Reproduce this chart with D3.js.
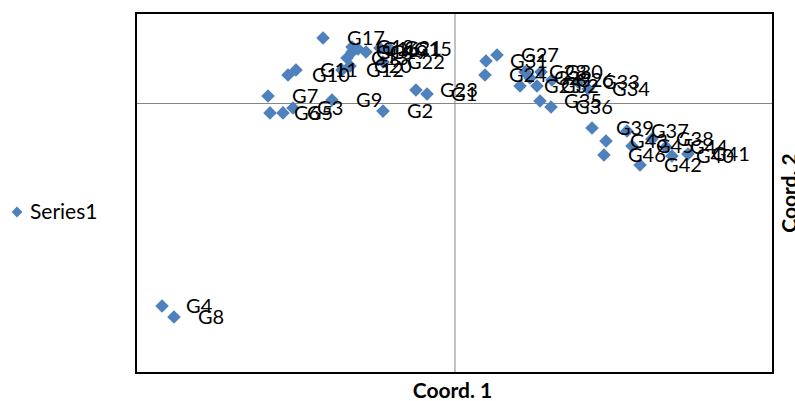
<!DOCTYPE html>
<html><head><meta charset="utf-8">
<script src="https://cdn.jsdelivr.net/npm/d3@7"></script>
<style>body{margin:0;background:#fff;}svg{display:block;}</style>
</head><body>
<svg id="c" width="795" height="401"></svg>
<script>
const labels = ["G1","G2","G3","G4","G5","G6","G7","G8","G9","G10","G11","G12","G13","G14","G15","G16","G17","G18","G19","G20","G21","G22","G23",
"G24","G25","G26","G27","G28","G29","G30","G31","G32","G33","G34","G35","G36","G37","G38","G39","G40","G41","G42","G43","G44","G45","G46"];
const coord1 = [-0.0345,-0.0898,-0.2028,-0.3673,-0.2154,-0.2317,-0.2342,-0.3523,-0.1538,-0.2091,-0.1991,-0.1413,-0.1350,-0.1287,-0.0810,-0.1212,-0.1651,-0.1287,-0.1111,-0.1312,-0.0936,-0.0898,-0.0484,
0.0383,0.0823,0.1225,0.0534,0.0885,0.0948,0.1086,0.0396,0.1036,0.1551,0.1677,0.1074,0.1212,0.2166,0.2480,0.1727,0.2731,0.2932,0.2330,0.1903,0.2656,0.2229,0.1877];
const coord2 = [0.020,-0.018,-0.011,-0.451,-0.022,-0.022,0.0156,-0.4756,0.0067,0.0622,0.0733,0.0733,0.100,0.1133,0.120,0.120,0.1444,0.1244,0.1133,0.0822,0.1222,0.0911,0.0289,
0.0622,0.0378,0.0511,0.1067,0.0689,0.0556,0.0689,0.0933,0.0378,0.0467,0.0311,0.0044,-0.0089,-0.0622,-0.080,-0.0556,-0.1178,-0.1133,-0.1378,-0.0844,-0.0978,-0.0956,-0.1156];
const xDomain = [-0.4, 0.4];
const yDomain = [-0.6, 0.2];
const seriesName = "Series1";
const xTitle = "Coord. 1", yTitle = "Coord. 2";

const svg = d3.select("#c");
const L = 136, R = 773, T = 13, B = 373;
const x = d3.scaleLinear().domain(xDomain).range([L, R]);
const y = d3.scaleLinear().domain(yDomain).range([B, T]);
const color = "#4f81bd";
const font = "Lato, 'Open Sans', sans-serif";

// axes through zero (no ticks)
svg.append("g").attr("transform", `translate(0,${y(0)})`)
  .call(d3.axisBottom(x).tickValues([]).tickSizeOuter(0))
  .call(g => g.select(".domain").attr("stroke", "#868686").attr("stroke-width", 1));
svg.append("g").attr("transform", `translate(${x(0)},0)`)
  .call(d3.axisLeft(y).tickValues([]).tickSizeOuter(0))
  .call(g => g.select(".domain").attr("stroke", "#868686").attr("stroke-width", 1));

// plot border
svg.append("rect").attr("x", L).attr("y", T).attr("width", R - L).attr("height", B - T)
  .attr("fill", "none").attr("stroke", "#000").attr("stroke-width", 2);

const data = labels.map((l, i) => ({l, x: coord1[i], y: coord2[i]}));
const diamond = d3.symbol().type(d3.symbolDiamond2).size(118);

svg.append("g").selectAll("path").data(data).join("path")
  .attr("d", diamond)
  .attr("transform", d => `translate(${x(d.x)},${y(d.y)})`)
  .attr("fill", color);

svg.append("g").selectAll("text").data(data).join("text")
  .attr("x", d => x(d.x) + 24)
  .attr("y", d => y(d.y))
  .attr("dy", "0.35em")
  .attr("font-family", font).attr("font-size", 20).attr("fill", "#000")
  .text(d => d.l);

// legend
svg.append("path").attr("d", d3.symbol().type(d3.symbolDiamond2).size(75))
  .attr("transform", "translate(17,212)").attr("fill", color);
svg.append("text").attr("x", 30).attr("y", 212).attr("dy", "0.35em")
  .attr("font-family", font).attr("font-size", 21).text(seriesName);

// titles
svg.append("text").attr("x", (L + R) / 2 - 2).attr("y", 391).attr("dy", "0.35em")
  .attr("text-anchor", "middle").attr("font-family", font).attr("font-weight", "bold")
  .attr("font-size", 21).text(xTitle);
svg.append("text").attr("transform", `translate(790,${(T + B) / 2}) rotate(-90)`)
  .attr("dy", "0.35em").attr("text-anchor", "middle").attr("font-family", font)
  .attr("font-weight", "bold").attr("font-size", 21).text(yTitle);
</script>
</body></html>
